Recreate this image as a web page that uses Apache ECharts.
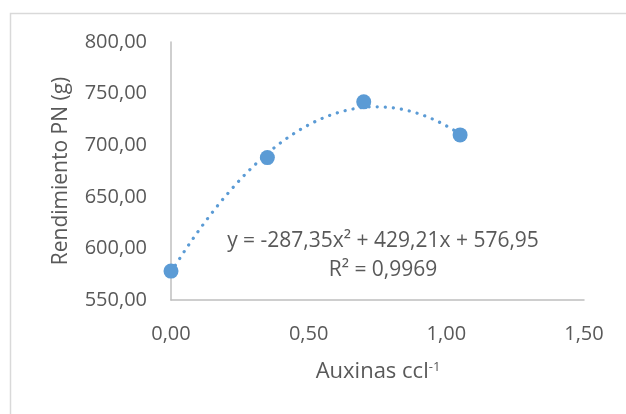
<!DOCTYPE html>
<html>
<head>
<meta charset="utf-8">
<script src="https://cdn.jsdelivr.net/npm/echarts@6/dist/echarts.min.js"></script>
<style>
  html, body { margin: 0; padding: 0; background: #ffffff; }
  #chart { width: 626px; height: 414px; }
</style>
</head>
<body>
<div id="chart"></div>
<script>
// Auxin dose (ccl-1) and yield (g)
const auxinas = [0.00, 0.35, 0.70, 1.05];
const rendimiento = [578, 688, 742, 710];

// Polynomial trendline coefficients: a*x^2 + b*x + c
const trendCoef = [-287.35, 429.21, 576.95];
const trendRange = [0, 1.05];

const yTicks = { min: 550, max: 800, step: 50 };
const xTicks = { min: 0, max: 1.5, step: 0.5 };

const equationText = 'y = -287,35x² + 429,21x + 576,95';
const r2Text = 'R² = 0,9969';

const FONT = '"Open Sans", "Noto Sans", sans-serif';
const TEXT = '#595959';
const AXIS = '#bfbfbf';
const BLUE = '#5b9bd5';

function comma(v) { return v.toFixed(2).replace('.', ','); }

// sample the trendline curve
const trend = [];
for (let i = 0; i <= 105; i++) {
  const x = trendRange[0] + (trendRange[1] - trendRange[0]) * i / 105;
  trend.push([x, trendCoef[0] * x * x + trendCoef[1] * x + trendCoef[2]]);
}

const chart = echarts.init(document.getElementById('chart'), null, { renderer: 'canvas' });
chart.setOption({
  animation: false,
  backgroundColor: '#ffffff',
  grid: { left: 171, top: 42, right: 42, bottom: 114 },
  xAxis: {
    type: 'value',
    min: xTicks.min, max: xTicks.max, interval: xTicks.step,
    axisLine: { show: true, lineStyle: { color: AXIS, width: 1.5 } },
    axisTick: { show: false },
    splitLine: { show: false },
    axisLabel: { color: TEXT, fontFamily: FONT, fontSize: 20, margin: 24, formatter: comma }
  },
  yAxis: {
    type: 'value',
    min: yTicks.min, max: yTicks.max, interval: yTicks.step,
    axisLine: { show: true, lineStyle: { color: AXIS, width: 1.5 } },
    axisTick: { show: false },
    splitLine: { show: false },
    axisLabel: { color: TEXT, fontFamily: FONT, fontSize: 20, margin: 24, formatter: comma }
  },
  graphic: [
    { type: 'rect', left: 8, top: 11, shape: { width: 700, height: 500 },
      style: { fill: 'none', stroke: '#d9d9d9', lineWidth: 1.5 }, z: -1 },
    { type: 'text', x: 61, y: 171, rotation: Math.PI / 2,
      style: { text: 'Rendimiento PN (g)', fill: TEXT, font: '21px ' + FONT,
               textAlign: 'center', textVerticalAlign: 'middle' } },
    { type: 'text', x: 378, y: 372,
      style: { text: '{a|Auxinas ccl}{s|-1}', textAlign: 'center', textVerticalAlign: 'middle',
               rich: {
                 a: { fontSize: 22, fontFamily: FONT, fill: TEXT, color: TEXT },
                 s: { fontSize: 13, fontFamily: FONT, fill: TEXT, color: TEXT, verticalAlign: 'top' }
               } } },
    { type: 'text', x: 383, y: 241,
      style: { text: equationText, fill: TEXT, font: '21px ' + FONT,
               textAlign: 'center', textVerticalAlign: 'middle' } },
    { type: 'text', x: 383, y: 270,
      style: { text: r2Text, fill: TEXT, font: '21px ' + FONT,
               textAlign: 'center', textVerticalAlign: 'middle' } }
  ],
  series: [
    {
      type: 'line',
      data: trend,
      showSymbol: false,
      smooth: false,
      lineStyle: { color: BLUE, width: 3.2, type: [0.1, 8], cap: 'round' },
      z: 1
    },
    {
      type: 'scatter',
      data: auxinas.map((x, i) => [x, rendimiento[i]]),
      symbol: 'circle',
      symbolSize: 15,
      itemStyle: { color: BLUE, opacity: 1 },
      z: 2
    }
  ]
});
</script>
</body>
</html>
